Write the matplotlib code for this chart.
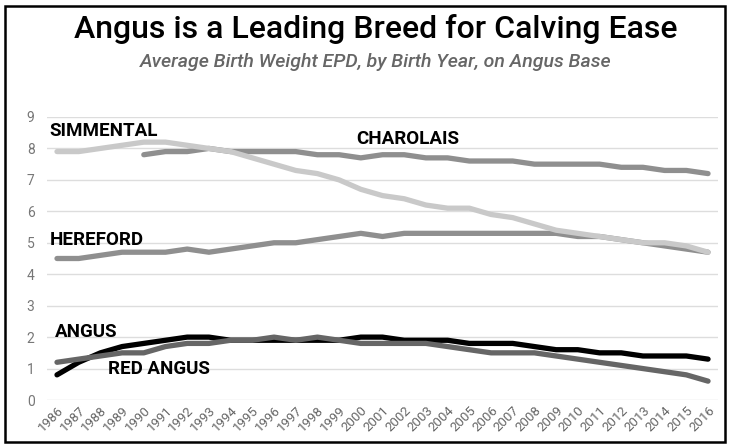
import numpy as np
import matplotlib.pyplot as plt
from matplotlib.patches import Rectangle

years = list(range(1986, 2017))

simmental = [7.9, 7.9, 8.0, 8.1, 8.2, 8.2, 8.1, 8.0, 7.9, 7.7, 7.5, 7.3, 7.2, 7.0, 6.7, 6.5,
             6.4, 6.2, 6.1, 6.1, 5.9, 5.8, 5.6, 5.4, 5.3, 5.2, 5.1, 5.0, 5.0, 4.9, 4.7]
charolais_years = list(range(1990, 2017))
charolais = [7.8, 7.9, 7.9, 8.0, 7.9, 7.9, 7.9, 7.9, 7.8, 7.8, 7.7, 7.8, 7.8, 7.7,
             7.7, 7.6, 7.6, 7.6, 7.5, 7.5, 7.5, 7.5, 7.4, 7.4, 7.3, 7.3, 7.2]
hereford = [4.5, 4.5, 4.6, 4.7, 4.7, 4.7, 4.8, 4.7, 4.8, 4.9, 5.0, 5.0, 5.1, 5.2, 5.3, 5.2,
            5.3, 5.3, 5.3, 5.3, 5.3, 5.3, 5.3, 5.3, 5.2, 5.2, 5.1, 5.0, 4.9, 4.8, 4.7]
angus = [0.8, 1.2, 1.5, 1.7, 1.8, 1.9, 2.0, 2.0, 1.9, 1.9, 1.9, 1.9, 1.9, 1.9, 2.0, 2.0,
         1.9, 1.9, 1.9, 1.8, 1.8, 1.8, 1.7, 1.6, 1.6, 1.5, 1.5, 1.4, 1.4, 1.4, 1.3]
red_angus = [1.2, 1.3, 1.4, 1.5, 1.5, 1.7, 1.8, 1.8, 1.9, 1.9, 2.0, 1.9, 2.0, 1.9, 1.8, 1.8,
             1.8, 1.8, 1.7, 1.6, 1.5, 1.5, 1.5, 1.4, 1.3, 1.2, 1.1, 1.0, 0.9, 0.8, 0.6]

plt.rcParams['font.family'] = ['Roboto', 'DejaVu Sans']

fig = plt.figure(figsize=(7.3, 4.46), dpi=100)
ax = fig.add_axes([0.0644, 0.1031, 0.9192, 0.6346])

lw = 3.8
ax.plot(years, hereford, color='#8f8f8f', lw=lw, solid_capstyle='round', clip_on=False)
ax.plot(charolais_years, charolais, color='#8f8f8f', lw=lw, solid_capstyle='round', clip_on=False)
ax.plot(years, simmental, color='#c9c9c9', lw=lw, solid_capstyle='round', clip_on=False)
ax.plot(years, angus, color='black', lw=lw, solid_capstyle='round', clip_on=False)
ax.plot(years, red_angus, color='#666666', lw=lw, solid_capstyle='round', clip_on=False)

ax.set_xlim(1985.54, 2016.46)
ax.set_ylim(0, 9)
ax.set_yticks(range(0, 10))
ax.set_xticks(years)
ax.set_xticklabels([str(y) for y in years], rotation=45, ha='right',
                   rotation_mode='anchor', fontsize=9.5, color='#666666')
ax.tick_params(axis='y', labelsize=10, labelcolor='#777777', length=0, pad=9)
ax.tick_params(axis='x', length=0, pad=3)
ax.grid(axis='y', color='#dddddd', lw=1)
ax.set_axisbelow(True)
for s in ax.spines.values():
    s.set_visible(False)

lab = dict(fontsize=13.5, fontweight='bold', color='black', va='center', ha='left')
ax.text(1985.65, 8.55, 'SIMMENTAL', **lab)
ax.text(1985.65, 5.1, 'HEREFORD', **lab)
ax.text(1999.8, 8.3, 'CHAROLAIS', **lab)
ax.text(1985.9, 2.15, 'ANGUS', **lab)
ax.text(1988.35, 1.0, 'RED ANGUS', **lab)

fig.text(0.515, 0.935, 'Angus is a Leading Breed for Calving Ease', ha='center', va='center',
         fontsize=23, fontweight='medium', color='black')
fig.text(0.515, 0.862, 'Average Birth Weight EPD, by Birth Year, on Angus Base', ha='center',
         va='center', fontsize=14, fontweight='medium', style='italic', color='#666666')

fig.patches.append(Rectangle((0.007, 0.01), 0.986, 0.977, transform=fig.transFigure,
                             fill=False, edgecolor='black', lw=1.8))

fig.savefig('out.png', dpi=100)
